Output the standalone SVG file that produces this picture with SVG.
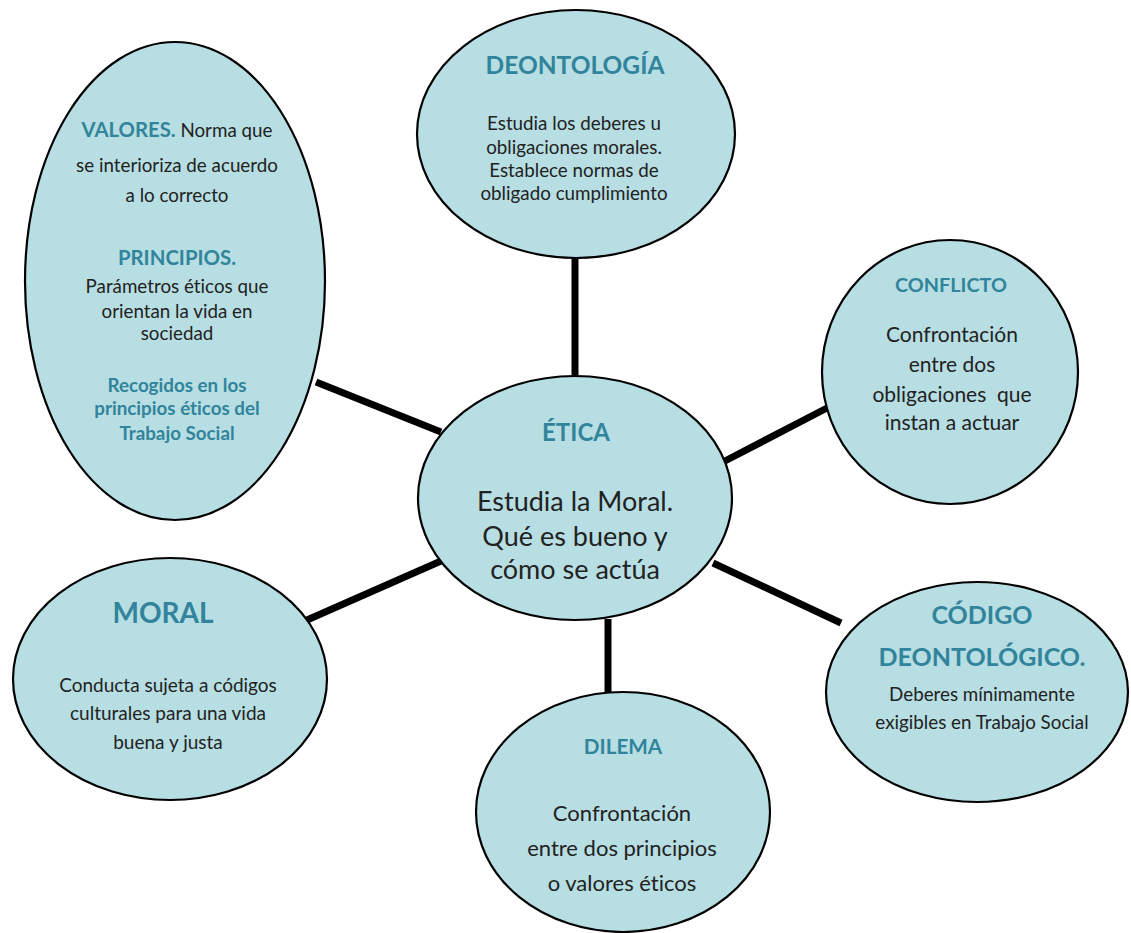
<svg xmlns="http://www.w3.org/2000/svg" width="1131" height="933" viewBox="0 0 1131 933">
<style>
.node{fill:#b7dee2;stroke:#000;stroke-width:2.2}
.t{font-family:Lato,"Liberation Sans",sans-serif;font-weight:bold;fill:#31849b;text-anchor:middle;font-variant-ligatures:none}
.b{font-family:Lato,"Liberation Sans",sans-serif;fill:#222;text-anchor:middle;font-variant-ligatures:none}
.edge{stroke:#000;stroke-width:7;fill:none}
</style>
<rect width="1131" height="933" fill="#fff"/>
<g id="connectors">
<line class="edge" x1="575" y1="258" x2="575" y2="378"/>
<line class="edge" x1="316" y1="382" x2="441" y2="432"/>
<line class="edge" x1="827" y1="408" x2="723" y2="462"/>
<line class="edge" x1="307" y1="620" x2="441" y2="561"/>
<line class="edge" x1="841" y1="623" x2="713" y2="563"/>
<line class="edge" x1="608" y1="619" x2="608" y2="694"/>
</g>
<g id="valores">
<ellipse class="node" cx="175" cy="281" rx="150" ry="239"/>
<text x="177" y="137" class="b" font-size="18.8"><tspan class="t" font-size="20.3">VALORES.</tspan> Norma que</text>
<text x="177" y="172" class="b" font-size="18.8">se interioriza de acuerdo</text>
<text x="177" y="202" class="b" font-size="18.8">a lo correcto</text>
<text x="177" y="265" class="t" font-size="20.4">PRINCIPIOS.</text>
<text x="177" y="293" class="b" font-size="18.8">Parámetros éticos que</text>
<text x="177" y="318" class="b" font-size="18.8">orientan la vida en</text>
<text x="177" y="340" class="b" font-size="18.8">sociedad</text>
<text x="177" y="392" class="t" font-size="18.8">Recogidos en los</text>
<text x="177" y="415" class="t" font-size="18.8">principios éticos del</text>
<text x="177" y="440" class="t" font-size="18.8">Trabajo Social</text>
</g>
<g id="deontologia">
<ellipse class="node" cx="576" cy="134" rx="159" ry="124"/>
<text x="575" y="74" class="t" font-size="24.5">DEONTOLOGÍA</text>
<text x="574" y="130" class="b" font-size="18.8">Estudia los deberes u</text>
<text x="574" y="154" class="b" font-size="18.8">obligaciones morales.</text>
<text x="574" y="177" class="b" font-size="18.8">Establece normas de</text>
<text x="574" y="200" class="b" font-size="18.8">obligado cumplimiento</text>
</g>
<g id="conflicto">
<ellipse class="node" cx="950" cy="372" rx="128" ry="132"/>
<text x="951" y="292" class="t" font-size="19.8">CONFLICTO</text>
<text x="952" y="342" class="b" font-size="21">Confrontación</text>
<text x="952" y="372" class="b" font-size="21">entre dos</text>
<text x="952" y="402" class="b" font-size="21" xml:space="preserve">obligaciones  que</text>
<text x="952" y="430" class="b" font-size="21">instan a actuar</text>
</g>
<g id="etica">
<ellipse class="node" cx="575" cy="498" rx="157" ry="122"/>
<text x="576" y="441" class="t" font-size="24">ÉTICA</text>
<text x="575" y="511" class="b" font-size="27">Estudia la Moral.</text>
<text x="575" y="546" class="b" font-size="27">Qué es bueno y</text>
<text x="575" y="579" class="b" font-size="27">cómo se actúa</text>
</g>
<g id="moral">
<ellipse class="node" cx="170" cy="679" rx="157" ry="121"/>
<text x="163" y="623" class="t" font-size="28">MORAL</text>
<text x="168" y="692" class="b" font-size="19">Conducta sujeta a códigos</text>
<text x="168" y="720" class="b" font-size="19">culturales para una vida</text>
<text x="168" y="749" class="b" font-size="19">buena y justa</text>
</g>
<g id="codigo">
<ellipse class="node" cx="977" cy="692" rx="151" ry="110"/>
<text x="982" y="624" class="t" font-size="25">CÓDIGO</text>
<text x="982" y="666" class="t" font-size="25">DEONTOLÓGICO.</text>
<text x="982" y="701" class="b" font-size="18.8">Deberes mínimamente</text>
<text x="982" y="729" class="b" font-size="18.8">exigibles en Trabajo Social</text>
</g>
<g id="dilema">
<ellipse class="node" cx="623" cy="812" rx="147" ry="120"/>
<text x="623" y="754" class="t" font-size="20.7">DILEMA</text>
<text x="622" y="821" class="b" font-size="22">Confrontación</text>
<text x="622" y="856" class="b" font-size="22">entre dos principios</text>
<text x="622" y="891" class="b" font-size="22">o valores éticos</text>
</g>
</svg>
